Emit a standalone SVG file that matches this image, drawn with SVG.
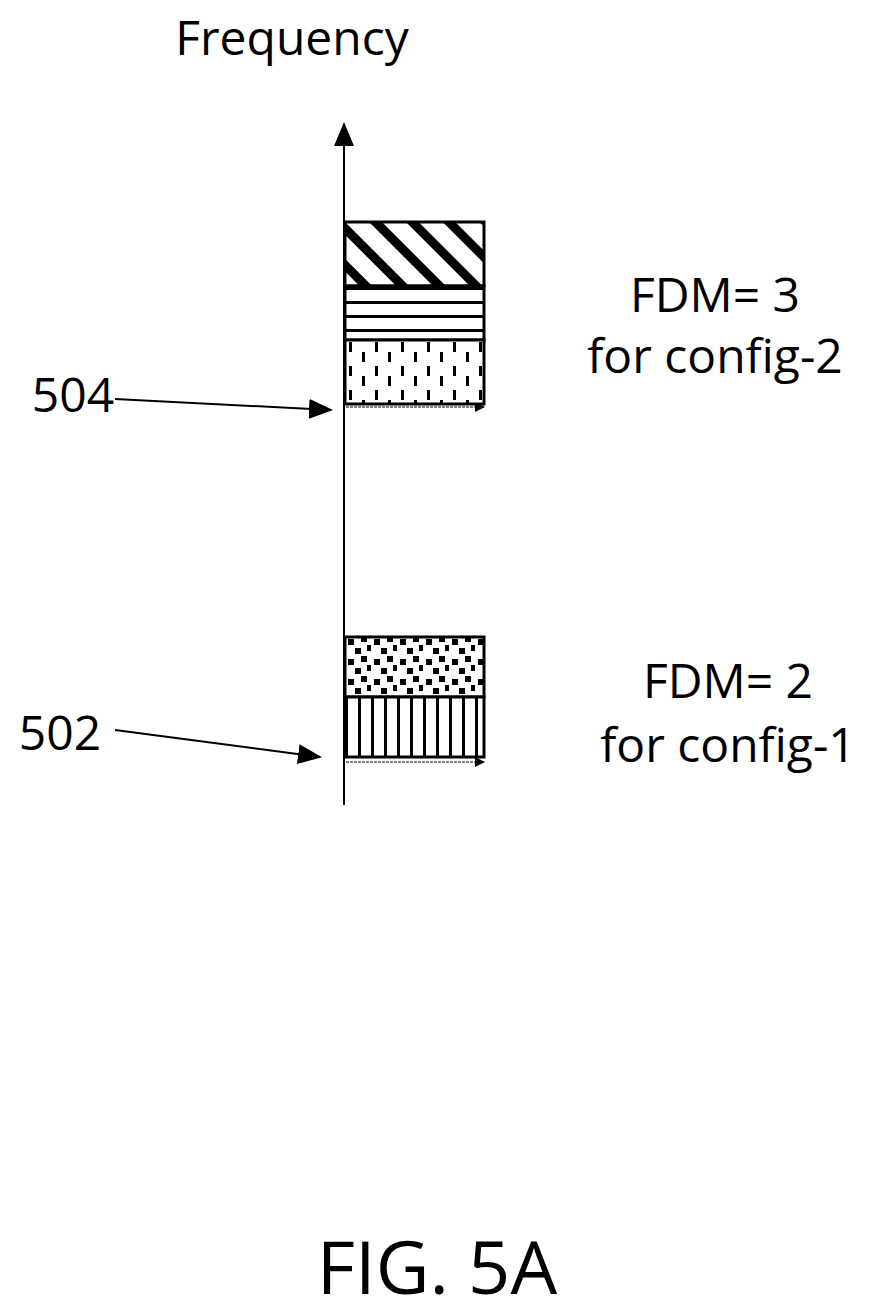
<svg xmlns="http://www.w3.org/2000/svg" width="882" height="1315" viewBox="0 0 882 1315">
<defs>
<style>
text{font-family:"Open Sans","DejaVu Sans",sans-serif;fill:#000}
.lbl{font-size:48px}
.box{stroke:#000;stroke-width:3}
.conn{stroke:#000;stroke-width:2;fill:none}
</style>
<marker id="ah" markerWidth="10" markerHeight="10" refX="9" refY="5" orient="auto" markerUnits="userSpaceOnUse" viewBox="0 0 10 10"><path d="M0,0 L10,5 L0,10 z" fill="#000"/></marker>
<marker id="big" markerWidth="24" markerHeight="20" refX="22" refY="10" orient="auto" markerUnits="userSpaceOnUse"><path d="M0,0 L24,10 L0,20 z" fill="#000"/></marker>
<pattern id="diag" width="26" height="26" patternUnits="userSpaceOnUse" patternTransform="rotate(-45)"><rect width="26" height="26" fill="#fff"/><rect width="9" height="26" fill="#000"/></pattern>
<pattern id="horiz" width="14" height="14" patternUnits="userSpaceOnUse" y="287"><rect width="14" height="14" fill="#fff"/><rect width="14" height="3" fill="#000"/></pattern>
<pattern id="dash" width="26" height="24" patternUnits="userSpaceOnUse" x="345" y="340"><rect width="26" height="24" fill="#fff"/><rect x="4" y="2" width="3" height="10" fill="#000"/><rect x="17" y="12" width="3" height="10" fill="#000"/></pattern>
<pattern id="dots" width="26" height="20" patternUnits="userSpaceOnUse" x="345" y="636"><rect width="26" height="20" fill="#fff"/><rect x="3" y="3" width="6" height="6" fill="#000"/><rect x="16" y="0" width="6" height="6" fill="#000"/><rect x="10" y="12" width="6" height="6" fill="#000"/><rect x="22" y="9" width="6" height="6" fill="#000"/></pattern>
<pattern id="vert" width="13" height="10" patternUnits="userSpaceOnUse" x="345"><rect width="13" height="10" fill="#fff"/><rect x="0" width="3" height="10" fill="#000"/></pattern>
</defs>
<text x="292" y="55" class="lbl" text-anchor="middle">Frequency</text>
<g id="connectors">
<line class="conn" x1="344" y1="805" x2="344" y2="124" stroke-width="3" marker-end="url(#big)"/>
<line class="conn" x1="115" y1="399" x2="331" y2="410" stroke-width="1.5" marker-end="url(#big)"/>
<line class="conn" x1="115" y1="730" x2="320" y2="757" stroke-width="1.5" marker-end="url(#big)"/>
<line x1="346" y1="407" x2="484" y2="407" stroke="#000" stroke-width="1" stroke-dasharray="3,1" marker-end="url(#ah)"/>
<line x1="346" y1="762" x2="484" y2="762" stroke="#000" stroke-width="1" stroke-dasharray="3,1" marker-end="url(#ah)"/>
</g>
<g id="config2">
<rect x="345" y="222" width="139" height="64" fill="url(#diag)" class="box"/>
<rect x="345" y="286" width="139" height="54" fill="url(#horiz)" class="box"/>
<rect x="345" y="340" width="139" height="64" fill="url(#dash)" class="box"/>
</g>
<g id="config1">
<rect x="345" y="637" width="139" height="60" fill="url(#dots)" class="box"/>
<rect x="345" y="697" width="139" height="60" fill="url(#vert)" class="box"/>
</g>
<g id="labels">
<text x="715" y="312" class="lbl" text-anchor="middle">FDM= 3</text>
<text x="715" y="373" class="lbl" text-anchor="middle">for config-2</text>
<text x="728" y="698" class="lbl" text-anchor="middle">FDM= 2</text>
<text x="728" y="762" class="lbl" text-anchor="middle">for config-1</text>
<text x="73" y="412" class="lbl" text-anchor="middle">504</text>
<text x="60" y="750" class="lbl" text-anchor="middle">502</text>
<text x="437" y="1294" text-anchor="middle" font-size="74">FIG. 5A</text>
</g>
</svg>
